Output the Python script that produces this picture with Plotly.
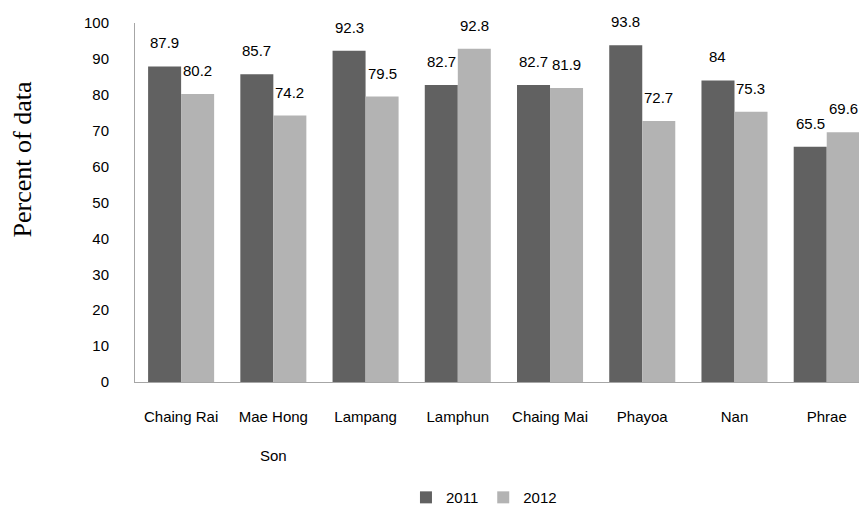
import plotly.graph_objects as go

categories = ["Chaing Rai", "Mae Hong Son", "Lampang", "Lamphun", "Chaing Mai", "Phayoa", "Nan", "Phrae"]
tick_labels = ["Chaing Rai", "Mae Hong<br><br>Son", "Lampang", "Lamphun", "Chaing Mai", "Phayoa", "Nan", "Phrae"]
values_2011 = [87.9, 85.7, 92.3, 82.7, 82.7, 93.8, 84, 65.5]
values_2012 = [80.2, 74.2, 79.5, 92.8, 81.9, 72.7, 75.3, 69.6]
series_names = ["2011", "2012"]
y_ticks = [0, 10, 20, 30, 40, 50, 60, 70, 80, 90, 100]
y_title = "Percent of data"

DARK = "#616161"
LIGHT = "#b3b3b3"
FONT = "Liberation Sans, Arial, sans-serif"
SERIF = "Liberation Serif, Times New Roman, serif"

fig = go.Figure()
fig.add_trace(go.Bar(x=categories, y=values_2011, name=series_names[0],
                     marker=dict(color=DARK, line=dict(width=0))))
fig.add_trace(go.Bar(x=categories, y=values_2012, name=series_names[1],
                     marker=dict(color=LIGHT, line=dict(width=0))))

half_bar_px = 16.5
annotations = []
for vals, shift in ((values_2011, -half_bar_px), (values_2012, half_bar_px)):
    for c, v in zip(categories, vals):
        annotations.append(dict(
            x=c, y=v, xref="x", yref="y", text=f"{v:g}", showarrow=False,
            xanchor="center", yanchor="bottom", xshift=shift, yshift=13,
            font=dict(family=FONT, size=15, color="#000000")))

# y-axis title placed like the reference (above the axis midpoint)
annotations.append(dict(
    text=y_title, xref="paper", yref="paper", x=0, y=0.62, xshift=-113,
    xanchor="center", yanchor="middle", textangle=-90, showarrow=False,
    font=dict(family=SERIF, size=26, color="#000000")))

fig.update_layout(
    width=859, height=506,
    margin=dict(l=135, r=0, t=23, b=124, autoexpand=False),
    paper_bgcolor="white", plot_bgcolor="white",
    barmode="group", bargap=0.284, bargroupgap=0,
    font=dict(family=FONT, size=15, color="#000000"),
    showlegend=True,
    legend=dict(orientation="h", x=0.482, xanchor="center", y=-0.322, yanchor="middle",
                font=dict(family=FONT, size=15), traceorder="normal"),
    annotations=annotations,
    xaxis=dict(
        range=[-0.5, 7.35], tickmode="array", tickvals=categories, ticktext=tick_labels,
        showline=True, linecolor="#a6a6a6", linewidth=1, showgrid=False, zeroline=False,
        ticks="", ticklabelstandoff=21, tickfont=dict(family=FONT, size=15)),
    yaxis=dict(
        range=[0, 100], tickmode="array", tickvals=y_ticks,
        showline=True, linecolor="#a6a6a6", linewidth=1, showgrid=False, zeroline=False,
        ticks="", ticklabelstandoff=22, tickfont=dict(family=FONT, size=15)),
)

fig.write_html("out.html")
